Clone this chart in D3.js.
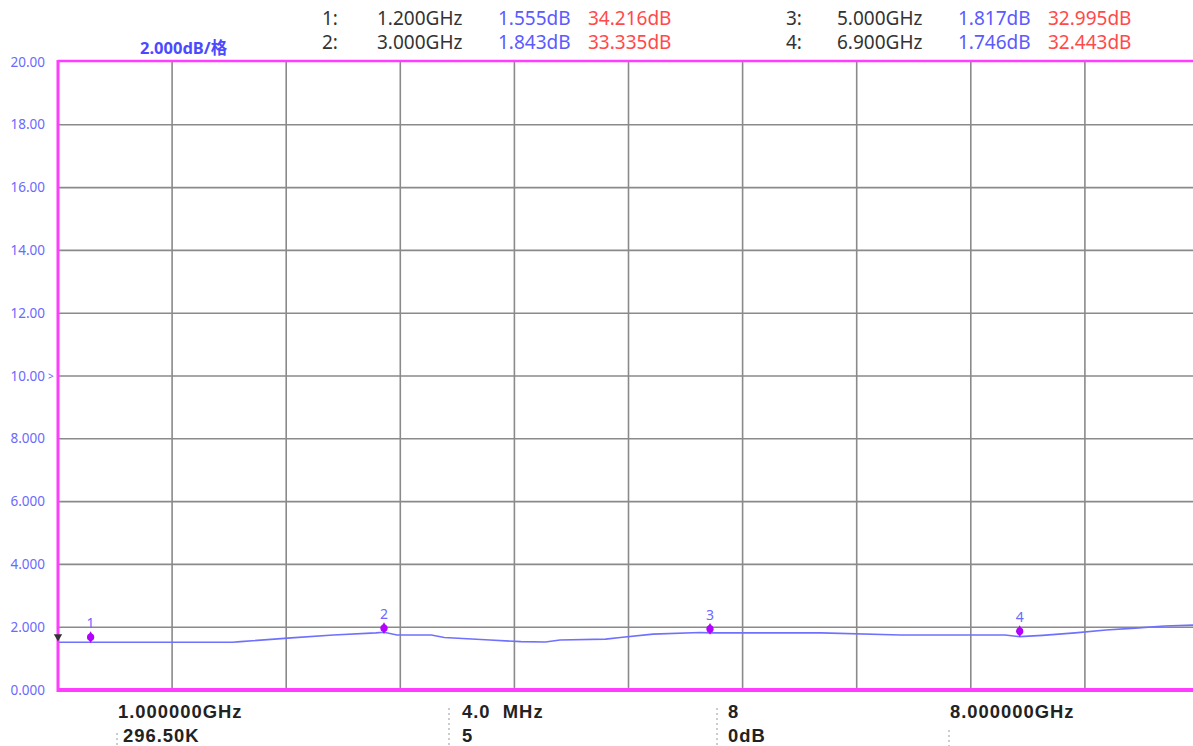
<!DOCTYPE html>
<html>
<head>
<meta charset="utf-8">
<script src="https://cdn.jsdelivr.net/npm/d3@7/dist/d3.min.js"></script>
<style>
  html, body { margin: 0; padding: 0; background: #ffffff; overflow: hidden; }
  svg { display: block; }
</style>
</head>
<body>
<svg id="chart" width="1193" height="746"></svg>
<script>
// ---------- data ----------
const traceFreqGHz = [1.00, 2.07, 2.12, 2.43, 2.69, 2.95, 3.00, 3.08, 3.29, 3.37, 3.65, 3.84, 3.99, 4.08, 4.36, 4.45, 4.65, 4.94, 5.00, 5.68, 6.17, 6.81, 6.90, 7.04, 7.24, 7.43, 7.61, 7.79, 8.00];
const traceDb      = [1.52, 1.52, 1.54, 1.66, 1.75, 1.82, 1.84, 1.75, 1.75, 1.67, 1.59, 1.54, 1.53, 1.59, 1.62, 1.67, 1.78, 1.83, 1.82, 1.82, 1.75, 1.75, 1.70, 1.74, 1.82, 1.91, 1.97, 2.04, 2.07];

const markerIds     = ["1", "2", "3", "4"];
const markerFreqGHz = [1.2, 3.0, 5.0, 6.9];
const markerFreqTxt = ["1.200GHz", "3.000GHz", "5.000GHz", "6.900GHz"];
const markerDbTxt   = ["1.555dB", "1.843dB", "1.817dB", "1.746dB"];
const markerDb      = [1.555, 1.843, 1.817, 1.746];
const markerRedTxt  = ["34.216dB", "33.335dB", "32.995dB", "32.443dB"];

const yTickValues = [0, 2, 4, 6, 8, 10, 12, 14, 16, 18, 20];
const yTickLabels = ["0.000", "2.000", "4.000", "6.000", "8.000", "10.00", "12.00", "14.00", "16.00", "18.00", "20.00"];

const freqStart = 1.0, freqStop = 8.0, xDivisions = 10;
const scaleLabel = "2.000dB/格";
const bottomRow1 = ["1.000000GHz", "4.0  MHz", "8", "8.000000GHz"];
const bottomRow2 = ["296.50K", "5", "0dB", ""];

// ---------- drawing ----------
const svg = d3.select("#chart");
const W = 1193, H = 746;
const pLeft = 58, pTop = 61, pBottom = 690, pRight = 1199;

const x = d3.scaleLinear().domain([freqStart, freqStop]).range([pLeft, pRight]);
const y = d3.scaleLinear().domain([0, 20]).range([pBottom, pTop + 1]);

const magenta = "#ff3cff";
const gridColor = "#8a8a8a";
const blue = "#5a5aff";
const red = "#ff4a4a";

// grid
const step = (freqStop - freqStart) / xDivisions;
const vTicks = d3.range(1, xDivisions).map(i => freqStart + i * step);
svg.append("g").selectAll("line").data(vTicks).join("line")
  .attr("x1", d => x(d)).attr("x2", d => x(d))
  .attr("y1", pTop).attr("y2", pBottom)
  .attr("stroke", gridColor).attr("stroke-width", 1.6);
svg.append("g").selectAll("line").data(yTickValues.filter(v => v > 0 && v < 20)).join("line")
  .attr("x1", pLeft).attr("x2", W)
  .attr("y1", d => y(d)).attr("y2", d => y(d))
  .attr("stroke", gridColor).attr("stroke-width", 1.6);

// y labels
svg.append("g").selectAll("text").data(yTickValues).join("text")
  .attr("x", 45).attr("y", d => y(d) + 4.5)
  .attr("text-anchor", "end")
  .attr("font-family", "'Noto Sans', sans-serif")
  .attr("font-size", 13.5)
  .attr("fill", "#6a6aff")
  .text((d, i) => yTickLabels[i]);

// reference arrow at 10.00
svg.append("text").attr("x", 48).attr("y", y(10) + 4)
  .attr("font-family", "'Noto Sans', sans-serif").attr("font-size", 10)
  .attr("fill", "#6464ff").text(">");

// trace
const clipId = "plotclip";
svg.append("clipPath").attr("id", clipId).append("rect")
  .attr("x", pLeft).attr("y", pTop).attr("width", pRight - pLeft).attr("height", pBottom - pTop);
const line = d3.line().x(d => x(d[0])).y(d => y(d[1]));
svg.append("path")
  .datum(traceFreqGHz.map((f, i) => [f, traceDb[i]]))
  .attr("clip-path", `url(#${clipId})`)
  .attr("d", line)
  .attr("fill", "none")
  .attr("stroke", "#7070ff")
  .attr("stroke-width", 1.6);

// borders
svg.append("line").attr("x1", pLeft).attr("x2", W).attr("y1", pTop).attr("y2", pTop)
  .attr("stroke", magenta).attr("stroke-width", 2.5);
svg.append("line").attr("x1", pLeft).attr("x2", W).attr("y1", pBottom).attr("y2", pBottom)
  .attr("stroke", magenta).attr("stroke-width", 4);
svg.append("line").attr("x1", pLeft).attr("x2", pLeft).attr("y1", pTop - 1).attr("y2", pBottom + 2)
  .attr("stroke", magenta).attr("stroke-width", 3);

// left-edge reference triangle
svg.append("path")
  .attr("d", d3.symbol().type(d3.symbolTriangle).size(30)())
  .attr("transform", `translate(${pLeft},${y(1.7)}) rotate(180)`)
  .attr("fill", "#333");

// markers
const mg = svg.append("g");
markerIds.forEach((id, i) => {
  const mx = x(markerFreqGHz[i]), my = y(markerDb[i]) - 4;
  mg.append("path")
    .attr("d", d3.symbol().type(d3.symbolDiamond).size(40)())
    .attr("transform", `translate(${mx},${my})`)
    .attr("fill", "#b400ff");
  mg.append("circle").attr("cx", mx).attr("cy", my).attr("r", 3.6).attr("fill", "#b400ff");
  mg.append("text").attr("x", mx).attr("y", my - 9)
    .attr("text-anchor", "middle")
    .attr("font-family", "'Noto Sans', sans-serif").attr("font-size", 14)
    .attr("fill", "#6a6aff").text(id);
});

// scale header
svg.append("text").attr("x", 140).attr("y", 54)
  .attr("font-family", "'Noto Sans', 'Noto Sans CJK SC', sans-serif")
  .attr("font-size", 16.5).attr("font-weight", "bold")
  .attr("fill", "#4a4aff").text(scaleLabel);

// marker table
const colX = [[322, 377, 498, 588], [786, 837, 958, 1048]];
const rowY = [25, 49];
const tableFont = "'Noto Sans', sans-serif";
markerIds.forEach((id, i) => {
  const c = colX[Math.floor(i / 2)], ry = rowY[i % 2];
  const g = svg.append("g").attr("font-family", tableFont).attr("font-size", 19);
  g.append("text").attr("x", c[0]).attr("y", ry).attr("fill", "#333").text(id + ":");
  g.append("text").attr("x", c[1]).attr("y", ry).attr("fill", "#333").text(markerFreqTxt[i]);
  g.append("text").attr("x", c[2]).attr("y", ry).attr("fill", blue).text(markerDbTxt[i]);
  g.append("text").attr("x", c[3]).attr("y", ry).attr("fill", red).text(markerRedTxt[i]);
});

// bottom info
const bx = [118, 462, 728, 950];
const bg = svg.append("g").attr("font-family", "'Liberation Sans', Arial, sans-serif")
  .attr("font-size", 18.4).attr("font-weight", "bold").attr("fill", "#222")
  .attr("letter-spacing", 1);
bottomRow1.forEach((t, i) => {
  bg.append("text").attr("x", bx[i]).attr("y", 718).attr("xml:space", "preserve").text(t);
});
bottomRow2.forEach((t, i) => {
  bg.append("text").attr("x", bx[i] + (i === 0 ? 5 : 0)).attr("y", 742).text(t);
});
const seps = [[117, 733], [449, 708], [717, 708], [949, 730]];
seps.forEach(s => {
  svg.append("line").attr("x1", s[0]).attr("x2", s[0])
    .attr("y1", s[1]).attr("y2", 746)
    .attr("stroke", "#999").attr("stroke-width", 1).attr("stroke-dasharray", "2,3");
});
</script>
</body>
</html>
